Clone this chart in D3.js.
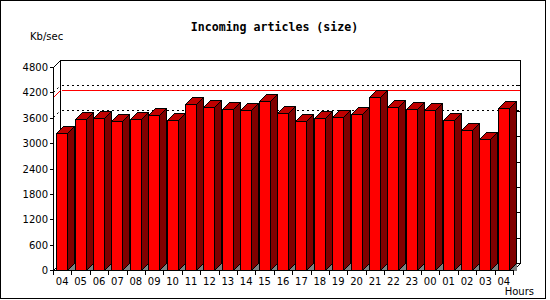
<!DOCTYPE html>
<html>
<head>
<meta charset="utf-8">
<script src="https://cdn.jsdelivr.net/npm/d3@7"></script>
<style>
  body { margin: 0; background: #fff; }
  svg text { font-family: "DejaVu Sans", sans-serif; font-size: 10px; fill: #000; }
</style>
</head>
<body>
<div id="chart"></div>
<script>
// datos
const hours = ["04","05","06","07","08","09","10","11","12","13","14","15","16",
               "17","18","19","20","21","22","23","00","01","02","03","04"];
const sizeKbps = [3237, 3568, 3592, 3521, 3568, 3663, 3545, 3923, 3853, 3805, 3781, 3994, 3710,
                  3521, 3592, 3616, 3687, 4089, 3853, 3805, 3781, 3545, 3308, 3095, 3829];
const yTicks = [0, 600, 1200, 1800, 2400, 3000, 3600, 4200, 4800];
const maxLine = 4095;
const dashLines = [4210, 3620];

const W = 550, H = 300;
const depth = 7; // profundidad 3D
const pLeft = 53, pRight = 513, pBottom = 270, pTop = 67;

const svg = d3.select("#chart").append("svg")
  .attr("width", W).attr("height", H)
  .attr("shape-rendering", "crispEdges");

svg.append("rect")
  .attr("x", 0.5).attr("y", 0.5).attr("width", 545).attr("height", 298)
  .attr("fill", "#fff").attr("stroke", "#000");

const x = d3.scaleBand().domain(d3.range(hours.length)).range([pLeft, pRight]);
const y = d3.scaleLinear().domain([0, 4800]).range([pBottom, pTop]);
const bw = x.bandwidth();
const fw = 11;

// pared del fondo
svg.append("rect")
  .attr("x", pLeft + depth + 0.5).attr("y", y(4800) - depth + 0.5)
  .attr("width", pRight - pLeft).attr("height", y(0) - y(4800))
  .attr("fill", "#fff").attr("stroke", "#000");

// suelo
svg.append("path")
  .attr("d", `M${pLeft + 0.5},${pBottom + 0.5}L${pRight + 0.5},${pBottom + 0.5}L${pRight + depth + 0.5},${pBottom - depth + 0.5}L${pLeft + depth + 0.5},${pBottom - depth + 0.5}Z`)
  .attr("fill", "#fff").attr("stroke", "#000");

// marcas en el borde derecho de la pared
svg.selectAll(".rtick").data(yTicks.slice(1, -1)).join("line")
  .attr("x1", pRight + depth - 4).attr("x2", pRight + depth + 0.5)
  .attr("y1", d => Math.round(y(d) - depth) + 0.5).attr("y2", d => Math.round(y(d) - depth) + 0.5)
  .attr("stroke", "#000");

// lineas de referencia (max y discontinuas)
const refs = [{v: maxLine, c: "#f00", dash: null}].concat(dashLines.map(v => ({v: v, c: "#000", dash: "2,3"})));
refs.forEach(r => {
  const yb = Math.round(y(r.v) - depth) + 0.5;
  const yf = Math.round(y(r.v)) + 0.5;
  svg.append("line")
    .attr("x1", pLeft + depth + 2).attr("x2", pRight + depth)
    .attr("y1", yb).attr("y2", yb)
    .attr("stroke", r.c).attr("stroke-dasharray", r.dash);
  svg.append("line")
    .attr("x1", pLeft + 0.5).attr("x2", pLeft + depth + 0.5)
    .attr("y1", yf).attr("y2", yb)
    .attr("stroke", r.c).attr("stroke-dasharray", r.dash)
    .attr("shape-rendering", "auto");
});

// barras 3D
const bars = svg.append("g").selectAll("g").data(sizeKbps).join("g");
const x0 = (d, i) => Math.round(x(i) + (bw - fw) / 2 - 0.5) + 0.5;
const yt = d => Math.round(y(d)) + 0.5;
const yb0 = Math.round(y(0)) + 0.5;

bars.append("path") // sombra en el suelo
  .attr("d", (d, i) => `M${x0(d, i) + fw},${yb0}L${x0(d, i) + fw + depth},${yb0 - depth}L${x0(d, i) + fw + depth},${yb0}Z`)
  .attr("fill", "#808080");
bars.append("path") // lado
  .attr("d", (d, i) => `M${x0(d, i) + fw},${yb0}L${x0(d, i) + fw},${yt(d)}L${x0(d, i) + fw + depth},${yt(d) - depth}L${x0(d, i) + fw + depth},${yb0 - depth}Z`)
  .attr("fill", "#800000").attr("stroke", "#000");
bars.append("path") // tapa
  .attr("d", (d, i) => `M${x0(d, i)},${yt(d)}L${x0(d, i) + depth},${yt(d) - depth}L${x0(d, i) + fw + depth},${yt(d) - depth}L${x0(d, i) + fw},${yt(d)}Z`)
  .attr("fill", "#c00000").attr("stroke", "#000");
bars.append("rect") // frente
  .attr("x", (d, i) => x0(d, i)).attr("y", d => yt(d))
  .attr("width", fw).attr("height", d => yb0 - yt(d))
  .attr("fill", "#f00").attr("stroke", "#000");

// ejes
svg.append("path")
  .attr("d", `M${pLeft + 0.5},${pBottom + 0.5}L${pLeft + 0.5},${pTop + 0.5}L${pLeft + depth + 0.5},${pTop - depth + 0.5}`)
  .attr("fill", "none").attr("stroke", "#000");
svg.append("line")
  .attr("x1", pLeft + 0.5).attr("x2", pRight + 0.5)
  .attr("y1", pBottom + 0.5).attr("y2", pBottom + 0.5).attr("stroke", "#000");

svg.selectAll(".ytick").data(yTicks).join("line")
  .attr("x1", pLeft - 3).attr("x2", pLeft + 0.5)
  .attr("y1", d => Math.round(y(d)) + 0.5).attr("y2", d => Math.round(y(d)) + 0.5)
  .attr("stroke", "#000");
svg.selectAll(".ylab").data(yTicks).join("text")
  .attr("x", 48).attr("y", d => y(d) + 4)
  .attr("text-anchor", "end").text(d => d);

svg.selectAll(".xtick").data(d3.range(hours.length + 1)).join("line")
  .attr("x1", i => Math.round(pLeft + i * bw) + 0.5).attr("x2", i => Math.round(pLeft + i * bw) + 0.5)
  .attr("y1", pBottom).attr("y2", pBottom + 5)
  .attr("stroke", "#000");
svg.selectAll(".xlab").data(hours).join("text")
  .attr("x", (d, i) => x(i) + bw / 2).attr("y", 285)
  .attr("text-anchor", "middle").text(d => d);

// textos
svg.append("text")
  .attr("x", 274.5).attr("y", 31)
  .attr("text-anchor", "middle")
  .style("font-family", "'DejaVu Sans Mono', monospace")
  .style("font-weight", "bold").style("font-size", "11.6px")
  .text("Incoming articles (size)");
svg.append("text").attr("x", 30).attr("y", 40).text("Kb/sec");
svg.append("text").attr("x", 534).attr("y", 295).attr("text-anchor", "end").text("Hours");
</script>
</body>
</html>
